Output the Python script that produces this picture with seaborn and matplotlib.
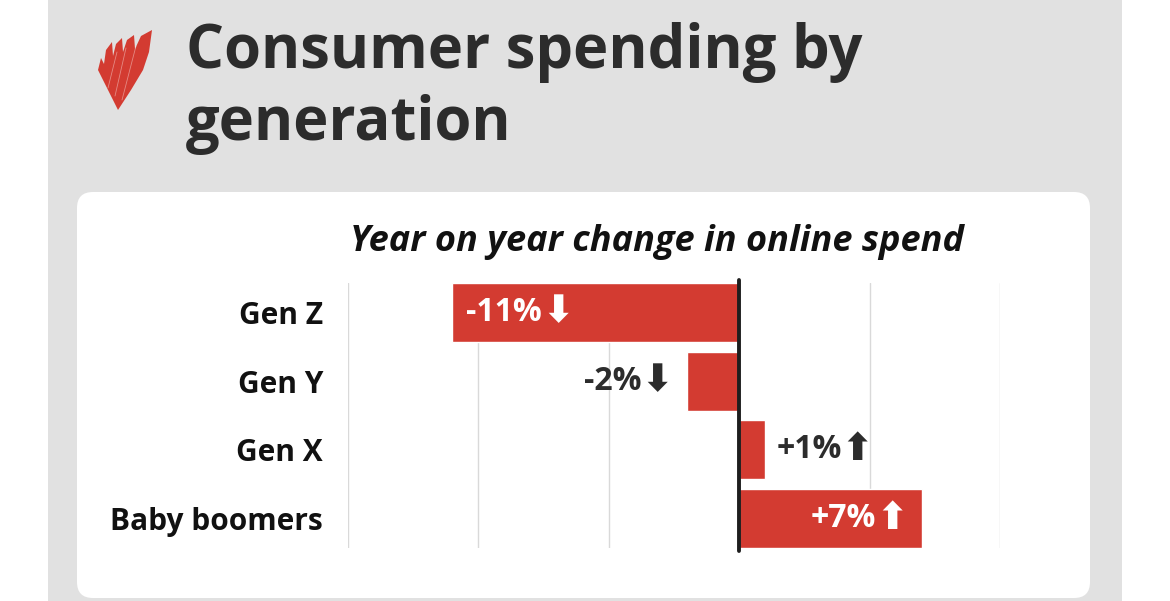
import matplotlib
matplotlib.use("Agg")
import matplotlib.pyplot as plt
import numpy as np
import pandas as pd
import seaborn as sns
from matplotlib.offsetbox import AnnotationBbox, HPacker, TextArea
from matplotlib.patches import FancyBboxPatch, Polygon, Rectangle

SUBTITLE = "Year on year change in online spend"
generations = ["Gen Z", "Gen Y", "Gen X", "Baby boomers"]
change_pct = [-11, -2, 1, 7]
grid_ticks = [-15, -10, -5, 0, 5, 10]

RED = "#d33b31"
DARK = "#2c2c2c"
PANEL = "#e1e1e1"
FONT = ["Open Sans", "DejaVu Sans"]

W, H = 1170, 601


def draw_background(fig):
    # full-figure axes in pixel coords for panel, card, logo and title
    bg = fig.add_axes([0, 0, 1, 1], zorder=0)
    bg.set_xlim(0, W)
    bg.set_ylim(H, 0)
    bg.axis("off")
    bg.add_patch(Rectangle((48, 0), 1074, H, color=PANEL, lw=0))
    bg.add_patch(FancyBboxPatch((77, 192), 1013, 406, boxstyle="round,pad=0,rounding_size=16",
                                fc="white", ec="none"))

    # logo: jagged red heart made of slanted stripes
    logo = [(118, 110), (104, 82), (98, 70), (101, 58), (104, 64), (106, 50), (112, 42),
            (113, 56), (116, 44), (122, 38), (123, 52), (127, 40), (134, 35), (135, 49),
            (141, 36), (152, 30), (149, 52), (143, 70), (131, 90)]
    bg.add_patch(Polygon(logo, closed=True, fc=RED, ec="none"))
    for x0, y0, x1, y1 in [(108, 88, 117, 52), (115, 96, 126, 48), (122, 100, 136, 46)]:
        bg.plot([x0, x1], [y0, y1], color="white", lw=0.6, alpha=0.4)

    bg.text(186, 68, "Consumer spending by", fontsize=43, fontweight="bold", color=DARK,
            family=FONT, va="baseline", ha="left")
    bg.text(186, 140, "generation", fontsize=43, fontweight="bold", color=DARK,
            family=FONT, va="baseline", ha="left")
    bg.text(350, 251, SUBTITLE, fontsize=26, fontweight="bold", style="italic", color="#111111",
            family=FONT, va="baseline", ha="left")
    return bg


def value_label(ax, v, i):
    inside = abs(v) >= 5
    color = "white" if inside else DARK
    arrow = "\u2b07" if v < 0 else "\u2b06"
    num = TextArea(f"{v:+d}%", textprops=dict(fontsize=23, fontweight="bold", color=color, family=FONT))
    arr = TextArea(arrow, textprops=dict(fontsize=27, fontweight="bold", color=color, family=FONT))
    box = HPacker(children=[num, arr], align="center", pad=0, sep=0)
    if v < 0:
        align, off = ((0, 0.5), 10) if inside else ((1, 0.5), -10)
    else:
        align, off = ((1, 0.5), -10) if inside else ((0, 0.5), 8)
    ab = AnnotationBbox(box, (v, i), xybox=(off, 0), xycoords="data", boxcoords="offset points",
                        box_alignment=align, frameon=False, zorder=5)
    ax.add_artist(ab)


def draw_bars(fig):
    df = pd.DataFrame({"generation": generations, "change": change_pct})
    ax = fig.add_axes([348 / W, 1 - 548 / H, 652 / W, 265 / H], zorder=2)
    ax.patch.set_alpha(0)
    sns.barplot(data=df, x="change", y="generation", orient="h", color=RED,
                width=0.855, saturation=1, ax=ax, zorder=3)
    ax.set_xlim(-15, 10)
    ax.set_ylim(3.4275, -0.4275)
    ax.set_xticks(grid_ticks)
    ax.set_xticklabels([])
    ax.grid(True, axis="x", color="#d9d9d9", lw=1, zorder=0)
    ax.grid(False, axis="y")
    ax.axvline(0, color="#1e1e1e", lw=2.8, ymin=-0.012, ymax=1.012, clip_on=False, zorder=4)
    for s in ax.spines.values():
        s.set_visible(False)
    ax.tick_params(axis="both", length=0)
    ax.tick_params(axis="y", pad=18)
    ax.set_yticks(range(len(generations)))
    ax.set_yticklabels(generations, fontsize=21.5, fontweight="bold", color="#111111", family=FONT)
    ax.set_xlabel("")
    ax.set_ylabel("")

    for i, v in enumerate(change_pct):
        value_label(ax, v, i)
    return ax


def main():
    sns.set_theme(style="white")
    fig = plt.figure(figsize=(W / 100, H / 100), dpi=100, facecolor="white")
    draw_background(fig)
    draw_bars(fig)
    fig.savefig("out.png", dpi=100, facecolor="white")
    plt.close(fig)


if __name__ == "__main__":
    main()
